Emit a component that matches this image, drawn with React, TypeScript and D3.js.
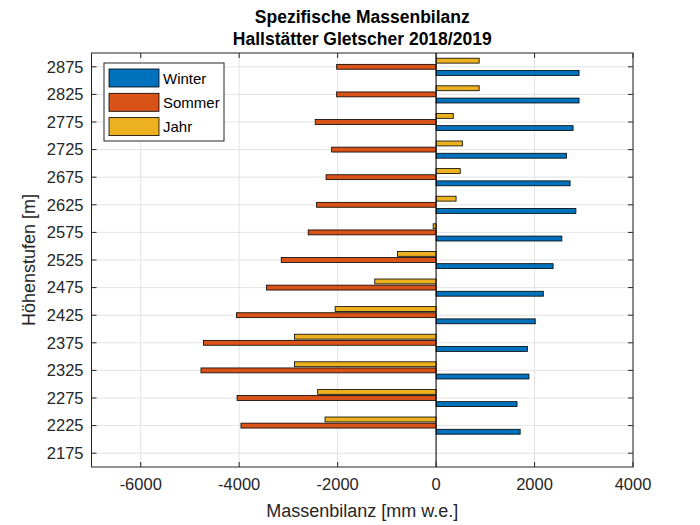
import React from "react";
import * as d3 from "d3";

const levels = [2875, 2825, 2775, 2725, 2675, 2625, 2575, 2525, 2475, 2425, 2375, 2325, 2275, 2225];
const winter = [2904, 2904, 2783, 2648, 2722, 2840, 2555, 2377, 2178, 2014, 1858, 1886, 1644, 1708];
const sommer = [-2020, -2020, -2456, -2121, -2235, -2427, -2598, -3146, -3445, -4057, -4726, -4776, -4043, -3964];
const jahr = [875, 875, 349, 534, 491, 406, -60, -783, -1246, -2050, -2875, -2875, -2406, -2256];
const seriesNames = ["Winter", "Sommer", "Jahr"];
const seriesColors = ["#0072BD", "#D95319", "#EDB120"];
const xTicks = [-6000, -4000, -2000, 0, 2000, 4000];
const yTicks = [2175, 2225, 2275, 2325, 2375, 2425, 2475, 2525, 2575, 2625, 2675, 2725, 2775, 2825, 2875];
const titleLines = ["Spezifische Massenbilanz", "Hallstätter Gletscher 2018/2019"];
const xLabel = "Massenbilanz [mm w.e.]";
const yLabel = "Höhenstufen [m]";

export default function App() {
  const W = 700, H = 525;
  const L = 91.5, R = 633, T = 53, B = 467;
  const x = d3.scaleLinear().domain([-7000, 4000]).range([L, R]);
  const y = d3.scaleLinear().domain([2150, 2900]).range([B, T]);
  const font = "'Liberation Sans', Arial, Helvetica, sans-serif";
  const axisColor = "#262626";
  const series = [winter, sommer, jahr];
  const slot = 50 * (2 / 3) / 3; // group width / n
  const barW = slot * 0.8;
  const offsets = [-slot, 0, slot];

  return (
    <svg width={W} height={H} style={{ position: "absolute", left: 0, top: 0, background: "#fff" }} fontFamily={font}>
      <rect x={0} y={0} width={W} height={H} fill="#fff" />
      {/* grid */}
      {xTicks.map((t) => (
        <line key={"gx" + t} x1={x(t)} x2={x(t)} y1={T} y2={B} stroke="#e3e3e3" strokeWidth={1} />
      ))}
      {yTicks.map((t) => (
        <line key={"gy" + t} x1={L} x2={R} y1={y(t)} y2={y(t)} stroke="#e3e3e3" strokeWidth={1} />
      ))}
      {/* bars */}
      {series.map((vals, si) =>
        vals.map((v, i) => {
          const yc = y(levels[i] + offsets[si]);
          const h = Math.abs(y(0) - y(barW));
          const x0 = x(Math.min(0, v));
          const x1 = x(Math.max(0, v));
          return (
            <rect
              key={si + "-" + i}
              x={x0}
              y={yc - h / 2}
              width={x1 - x0}
              height={h}
              fill={seriesColors[si]}
              stroke="#000"
              strokeWidth={0.8}
            />
          );
        })
      )}
      {/* baseline */}
      <line x1={x(0)} x2={x(0)} y1={T} y2={B} stroke="#000" strokeWidth={1} />
      {/* axes box */}
      <rect x={L} y={T} width={R - L} height={B - T} fill="none" stroke={axisColor} strokeWidth={1} />
      {/* ticks */}
      {xTicks.map((t) => (
        <g key={"tx" + t}>
          <line x1={x(t)} x2={x(t)} y1={B} y2={B - 5} stroke={axisColor} />
          <line x1={x(t)} x2={x(t)} y1={T} y2={T + 5} stroke={axisColor} />
          <text x={x(t)} y={B + 23} textAnchor="middle" fontSize={16.5} fill={axisColor}>
            {t}
          </text>
        </g>
      ))}
      {yTicks.map((t) => (
        <g key={"ty" + t}>
          <line x1={L} x2={L + 5} y1={y(t)} y2={y(t)} stroke={axisColor} />
          <line x1={R} x2={R - 5} y1={y(t)} y2={y(t)} stroke={axisColor} />
          <text x={L - 8} y={y(t) + 5.8} textAnchor="end" fontSize={16.5} fill={axisColor}>
            {t}
          </text>
        </g>
      ))}
      {/* axis labels */}
      <text x={(L + R) / 2} y={517} textAnchor="middle" fontSize={18} fill={axisColor}>
        {xLabel}
      </text>
      <text transform={`translate(35, ${(T + B) / 2}) rotate(-90)`} textAnchor="middle" fontSize={18} fill={axisColor}>
        {yLabel}
      </text>
      {/* title */}
      {titleLines.map((s, i) => (
        <text key={s} x={(L + R) / 2} y={23 + i * 22} textAnchor="middle" fontSize={17.5} fontWeight="bold" fill="#000">
          {s}
        </text>
      ))}
      {/* legend */}
      <rect x={104} y={63} width={120} height={78} fill="#fff" stroke={axisColor} strokeWidth={1} />
      {seriesNames.map((n, i) => (
        <g key={n}>
          <rect x={109} y={69 + i * 24.3} width={50} height={18} fill={seriesColors[i]} stroke="#000" strokeWidth={0.8} />
          <text x={163} y={83.5 + i * 24.3} fontSize={15} fill="#000">
            {n}
          </text>
        </g>
      ))}
    </svg>
  );
}
